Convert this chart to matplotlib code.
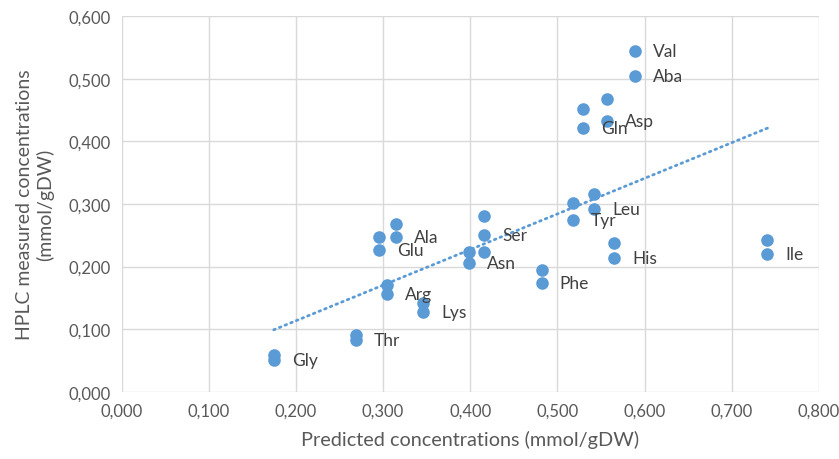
import numpy as np
import matplotlib
matplotlib.use('Agg')
from matplotlib import pyplot as plt
from matplotlib.ticker import FuncFormatter, MultipleLocator

plt.rcParams['font.family'] = ['Lato', 'DejaVu Sans']

# predicted vs measured (mmol/gDW), one row per point
pred = [0.1745, 0.1745, 0.269, 0.269, 0.295, 0.295, 0.315, 0.315,
        0.304, 0.304, 0.346, 0.346, 0.398, 0.398, 0.416, 0.416, 0.416,
        0.482, 0.482, 0.518, 0.518, 0.542, 0.542, 0.565, 0.565,
        0.529, 0.529, 0.557, 0.557, 0.589, 0.589, 0.741, 0.741]
meas = [0.051, 0.059, 0.083, 0.091, 0.226, 0.247, 0.248, 0.268,
        0.156, 0.171, 0.128, 0.142, 0.206, 0.223, 0.250, 0.281, 0.223,
        0.174, 0.195, 0.274, 0.301, 0.292, 0.316, 0.214, 0.238,
        0.421, 0.451, 0.432, 0.467, 0.504, 0.544, 0.220, 0.242]
labels = ['Gly', '', 'Thr', '', 'Glu', '', 'Ala', '',
          'Arg', '', 'Lys', '', 'Asn', '', 'Ser', '', '',
          'Phe', '', 'Tyr', '', 'Leu', '', 'His', '',
          'Gln', '', 'Asp', '', 'Aba', 'Val', 'Ile', '']

# linear trendline endpoints
trend_x = [0.1745, 0.741]
trend_y = [0.099, 0.421]

blue = '#5B9BD5'
grid = '#D9D9D9'
txt = '#595959'

fig = plt.figure(figsize=(8.39, 4.60), dpi=100)
ax = fig.add_axes([0.145, 0.146, 0.831, 0.817])

ax.scatter(pred, meas, s=82, color=blue, zorder=3, linewidths=0)

ax.plot(trend_x, trend_y, color=blue, lw=2, ls=(0, (0.6, 1.6)),
        dash_capstyle='round', zorder=2)

for x, y, l in zip(pred, meas, labels):
    if l:
        ax.annotate(l, (x, y), xytext=(13, 0), textcoords='offset points',
                    ha='left', va='center', fontsize=12.5, color='#404040',
                    zorder=4)

ax.set_xlim(0, 0.8)
ax.set_ylim(0, 0.6)
ax.xaxis.set_major_locator(MultipleLocator(0.1))
ax.yaxis.set_major_locator(MultipleLocator(0.1))
fmt = FuncFormatter(lambda v, p: f'{v:.3f}'.replace('.', ','))
ax.xaxis.set_major_formatter(fmt)
ax.yaxis.set_major_formatter(fmt)
ax.grid(True, color=grid, lw=1)
ax.set_axisbelow(True)
for s in ax.spines.values():
    s.set_visible(False)
ax.tick_params(length=0, labelsize=12, colors=txt, pad=8)

ax.set_xlabel('Predicted concentrations (mmol/gDW)', fontsize=14.3, color=txt,
              labelpad=8)
ax.set_ylabel('HPLC measured concentrations\n(mmol/gDW)', fontsize=14,
              color=txt, labelpad=10)

fig.savefig('out.png', dpi=100)
